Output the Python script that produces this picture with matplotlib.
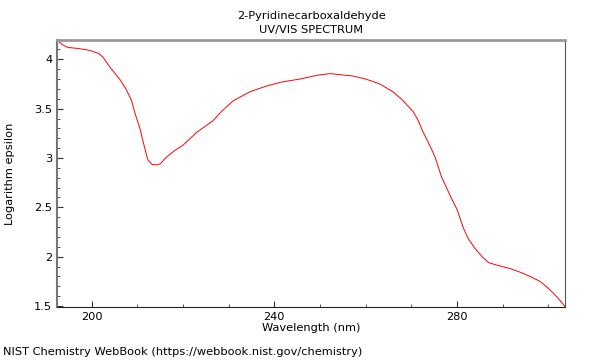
import matplotlib
matplotlib.use("Agg")
from matplotlib import pyplot as plt
from matplotlib.ticker import MultipleLocator, FormatStrFormatter

# wavelength (nm) and log epsilon
wavelength = [192.4, 193.5, 194.8, 197.0, 199.6, 201.5, 202.5, 204.0, 206.1, 207.5,
              208.7, 209.5, 210.5, 211.5, 212.3, 213.2, 214.2, 215.0, 216.4, 218.0,
              220.0, 223.0, 226.6, 228.4, 231.0, 234.6, 238.3, 241.6, 245.6, 249.6,
              252.2, 257.3, 260.0, 263.1, 266.0, 268.0, 270.4, 271.5, 272.6, 273.7,
              275.2, 276.6, 278.8, 280.0, 281.4, 282.5, 284.0, 285.5, 286.9, 289.0,
              291.6, 294.0, 296.0, 298.2, 300.0, 301.1, 302.5, 303.7]
log_eps = [4.196, 4.15, 4.12, 4.11, 4.09, 4.06, 4.02, 3.92, 3.80, 3.70,
           3.585, 3.45, 3.31, 3.12, 2.98, 2.935, 2.93, 2.94, 3.01, 3.07,
           3.13, 3.26, 3.38, 3.47, 3.58, 3.67, 3.73, 3.77, 3.80, 3.84,
           3.855, 3.83, 3.80, 3.75, 3.67, 3.59, 3.47, 3.38, 3.26, 3.16,
           3.01, 2.81, 2.59, 2.48, 2.29, 2.18, 2.08, 2.00, 1.94, 1.91,
           1.88, 1.84, 1.80, 1.75, 1.68, 1.63, 1.56, 1.493]

title = "2-Pyridinecarboxaldehyde\nUV/VIS SPECTRUM"
footer = "NIST Chemistry WebBook (https://webbook.nist.gov/chemistry)"
FS = 8.2

fig = plt.figure(figsize=(6, 3.6), dpi=100)
ax = fig.add_axes([0.095, 0.148, 0.847, 0.741])

ax.plot(wavelength, log_eps, color="#ff0000", lw=0.7)

ax.set_xlim(min(wavelength), max(wavelength))
ax.set_ylim(min(log_eps), max(log_eps))
ax.xaxis.set_major_locator(MultipleLocator(40))
ax.xaxis.set_minor_locator(MultipleLocator(10))
ax.yaxis.set_major_locator(MultipleLocator(0.5))
ax.yaxis.set_minor_locator(MultipleLocator(0.1))
ax.yaxis.set_major_formatter(FormatStrFormatter("%g"))
ax.tick_params(which="both", direction="in", labelsize=FS, color="#333333")
ax.tick_params(which="major", length=4)
ax.tick_params(which="minor", length=2.5)
ax.tick_params(axis="x", top=False)
ax.tick_params(axis="y", right=False)

ax.spines["top"].set_color("#999999")
ax.spines["top"].set_linewidth(2)
ax.spines["left"].set_color("#777777")
ax.spines["left"].set_linewidth(1.5)
ax.spines["bottom"].set_color("#222222")
ax.spines["right"].set_color("#555555")

ax.set_title(title, fontsize=FS, linespacing=1.45, pad=5)
ax.set_xlabel("Wavelength (nm)", fontsize=FS, labelpad=1)
ax.set_ylabel("Logarithm epsilon", fontsize=FS, labelpad=14)
fig.text(0.005, 0.022, footer, fontsize=FS, ha="left", va="center")

fig.savefig("out.png", dpi=100)
